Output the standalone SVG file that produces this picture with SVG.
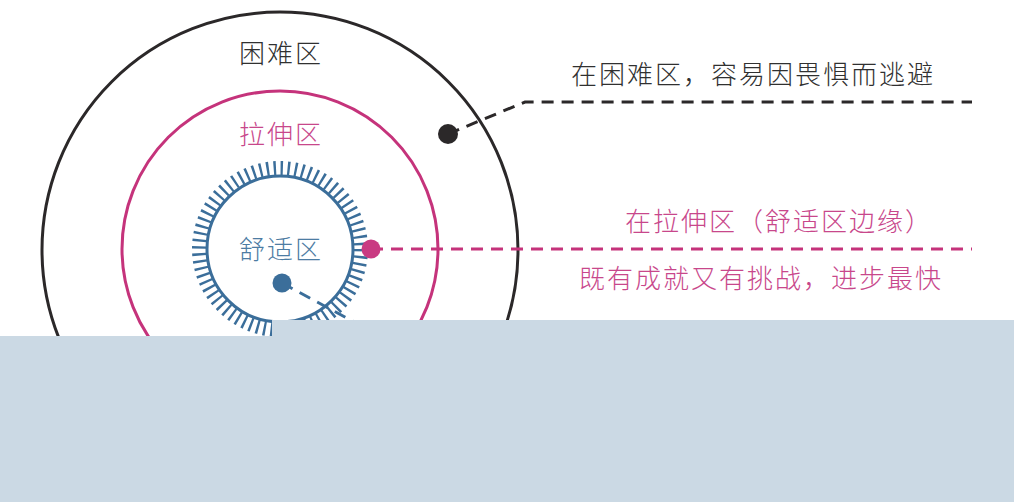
<svg xmlns="http://www.w3.org/2000/svg" width="1014" height="502" viewBox="0 0 1014 502">
<style>
.t{font-family:"Noto Sans CJK SC","Noto Sans",sans-serif;font-size:26px;letter-spacing:2px;font-weight:300}
.dark{fill:#303030}
.pink{fill:#c8478b}
.blue{fill:#4d7ca3}
.dash{fill:none;stroke-width:3;stroke-dasharray:12 8}
</style>
<rect width="1014" height="502" fill="#ffffff"/>
<g id="difficult-zone">
<circle cx="280" cy="250" r="238" fill="none" stroke="#2b2829" stroke-width="3"/>
<text class="t dark" x="281" y="63" text-anchor="middle">困难区</text>
</g>
<g id="stretch-zone">
<circle cx="280" cy="249" r="158" fill="none" stroke="#c5337b" stroke-width="3"/>
<text class="t pink" x="281" y="144" text-anchor="middle">拉伸区</text>
</g>
<g id="comfort-zone">
<circle cx="280" cy="249" r="73" fill="none" stroke="#3b6e9a" stroke-width="3"/>
<circle cx="280" cy="249" r="81" fill="none" stroke="#3b6e9a" stroke-width="14" stroke-dasharray="2.4 4.668"/>
<text class="t blue" x="281" y="259" text-anchor="middle">舒适区</text>
</g>
<g id="connectors">
<polyline class="dash" stroke="#2b2829" points="448,134 525,102 972,102"/>
<line class="dash" stroke="#c5337b" x1="371" y1="249" x2="972" y2="249"/>
<line class="dash" stroke="#3b6e9a" x1="282" y1="283" x2="380" y2="336"/>
<circle cx="448" cy="134" r="10" fill="#2b2829"/>
<circle cx="371" cy="249" r="9.5" fill="#c93a82"/>
<circle cx="282" cy="283" r="9.5" fill="#3b6e9a"/>
</g>
<g id="label-difficult">
<text class="t dark" x="571" y="84">在困难区，容易因畏惧而逃避</text>
</g>
<g id="label-stretch">
<text class="t pink" x="625" y="231">在拉伸区（舒适区边缘）</text>
<text class="t pink" x="579" y="288">既有成就又有挑战，进步最快</text>
</g>
<g id="overlay">
<rect x="0" y="336" width="1014" height="166" fill="#cbd9e4"/>
<rect x="272" y="320" width="742" height="182" fill="#cbd9e4"/>
</g>
</svg>
